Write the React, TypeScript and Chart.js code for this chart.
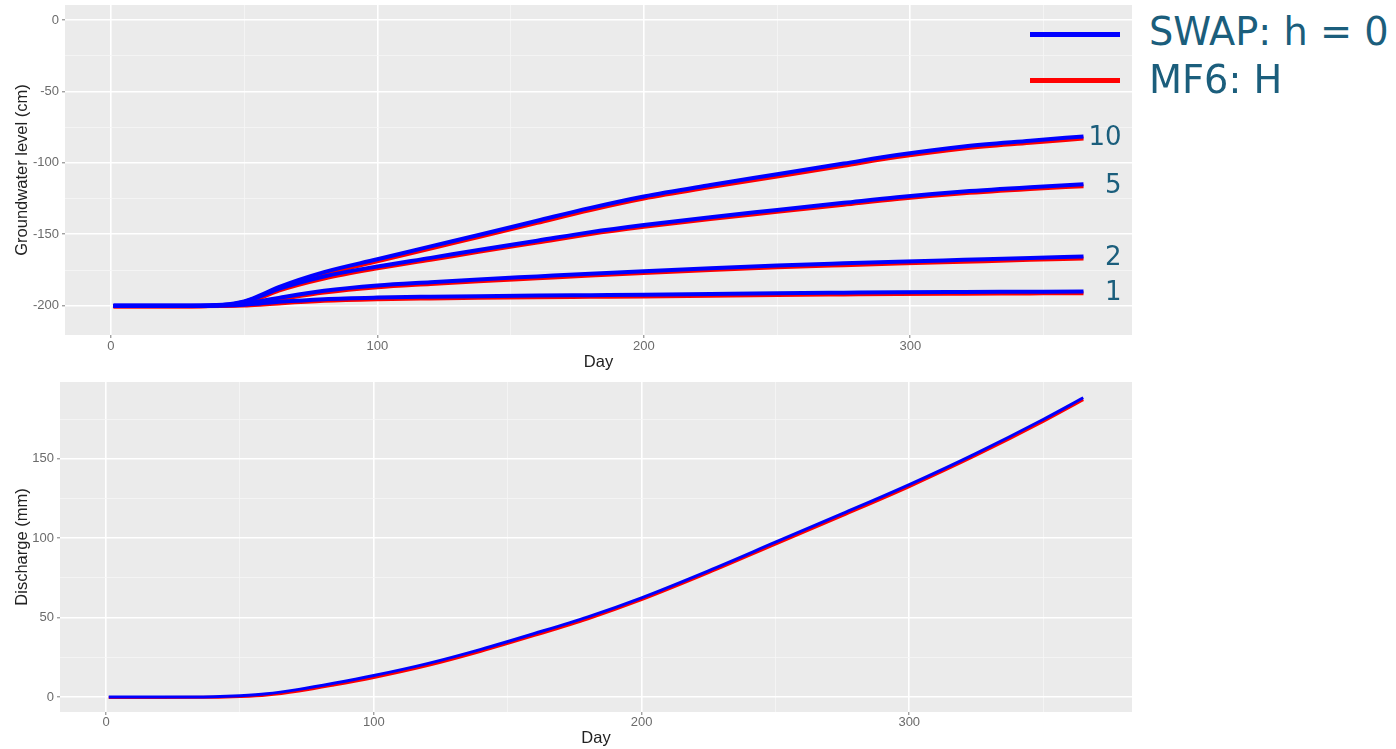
import React, { useEffect, useRef } from 'react';
import { Chart, registerables } from 'chart.js';

Chart.register(...registerables);

// ---------------- data ----------------
const gwDays = [1, 30, 42, 50, 56, 63, 80, 100, 120, 138, 160, 180, 200, 225, 250, 275, 295, 320, 345, 365];

const swapGw10 = [-200, -200, -199.4, -197, -192.8, -187, -176.5, -167.5, -158.5, -150.5, -140.5, -131.5, -123.5, -115.5, -108, -100.5, -94.5, -88.5, -84.5, -81.5];
const swapGw5 = [-200, -200, -199.5, -197.3, -193.5, -188.2, -179.5, -172.5, -166.5, -161, -154.5, -148.5, -143.5, -138, -133, -128, -124, -120, -117, -115];
const swapGw2 = [-200, -200, -199.7, -198.6, -196.8, -194.5, -189.5, -185.8, -183.5, -181.6, -179.5, -177.6, -175.8, -173.7, -171.8, -170.3, -169.2, -167.9, -166.6, -165.6];
const swapGw1 = [-200, -200, -199.8, -199.3, -198.4, -197.3, -195.4, -194.3, -193.7, -193.3, -192.9, -192.6, -192.3, -191.8, -191.3, -190.9, -190.6, -190.4, -190.2, -190.0];

const mf6Gw10 = [-200.3, -200.3, -199.8, -197.8, -194, -188.4, -178, -169, -160, -152, -142, -133, -125, -117, -109.5, -102, -96, -90, -86, -83];
const mf6Gw5 = [-200.3, -200.3, -199.9, -198, -194.6, -189.4, -180.9, -173.8, -167.8, -162.3, -155.8, -149.8, -144.8, -139.3, -134.3, -129.3, -125.3, -121.3, -118.3, -116.3];
const mf6Gw2 = [-200.3, -200.3, -200.1, -199.2, -197.7, -195.6, -190.8, -187.1, -184.8, -182.9, -180.8, -178.9, -177.1, -175, -173.1, -171.6, -170.5, -169.2, -167.9, -166.9];
const mf6Gw1 = [-200.3, -200.3, -200.2, -199.9, -199.3, -198.4, -196.6, -195.5, -194.9, -194.5, -194.1, -193.8, -193.5, -193, -192.5, -192.1, -191.8, -191.6, -191.4, -191.2];

const groupLabels = ['10', '5', '2', '1'];

const qDays = [1, 20, 40, 50, 60, 72, 85, 100, 120, 140, 160, 180, 200, 225, 250, 275, 300, 325, 350, 365];
const swapQ = [0, 0, 0.2, 0.8, 2.0, 4.8, 8.6, 13.5, 21, 30, 40, 50.5, 62.5, 79.5, 97.5, 115.5, 133.8, 153.5, 174.8, 188.5];
const mf6Q = [-0.3, -0.3, -0.2, 0.3, 1.3, 3.8, 7.5, 12.3, 19.8, 28.8, 38.8, 49.3, 61.3, 78.3, 96.3, 114.3, 132.6, 152.3, 173.6, 187.3];

const dayTicks = [0, 50, 100, 150, 200, 250, 300, 350];
const gwTicks = [-200, -175, -150, -125, -100, -75, -50, -25, 0];
const qTicks = [0, 25, 50, 75, 100, 125, 150, 175];

const legendItems = ['SWAP: h = 0', 'MF6: H'];

// ---------------- styles ----------------
const BLUE = '#0000FF';
const RED = '#FF0000';
const TEAL = '#1B5E7C';
const PANEL = '#EBEBEB';
const TICK_TXT = '#6b6b6b';
const TITLE_TXT = '#222222';

const pts = (xs: number[], ys: number[]) => xs.map((x, i) => ({ x, y: ys[i] }));

const panelBg = {
  id: 'panelBg',
  beforeDraw(chart: any) {
    const { ctx, chartArea } = chart;
    if (!chartArea) return;
    ctx.save();
    ctx.fillStyle = PANEL;
    ctx.fillRect(chartArea.left, chartArea.top, chartArea.right - chartArea.left, chartArea.bottom - chartArea.top);
    ctx.restore();
  },
};

const endLabels = {
  id: 'endLabels',
  afterDatasetsDraw(chart: any) {
    const ctx = chart.ctx;
    ctx.save();
    ctx.font = '26px "DejaVu Sans", sans-serif';
    ctx.fillStyle = TEAL;
    ctx.textAlign = 'right';
    ctx.textBaseline = 'middle';
    chart.data.datasets.forEach((ds: any, i: number) => {
      if (!ds.endLabel) return;
      const meta = chart.getDatasetMeta(i);
      const p = meta.data[meta.data.length - 1];
      if (!p) return;
      ctx.fillText(ds.endLabel, p.x + 38, p.y + 2);
    });
    ctx.restore();
  },
};

function gridStyle(major: number) {
  const isMajor = (ctx: any) => ctx.tick && Math.abs(ctx.tick.value % major) < 1e-6;
  return {
    color: (ctx: any) => (isMajor(ctx) ? '#FFFFFF' : '#F6F6F6'),
    lineWidth: (ctx: any) => (isMajor(ctx) ? 1.6 : 0.8),
    tickColor: (ctx: any) => (isMajor(ctx) ? '#7a7a7a' : 'rgba(0,0,0,0)'),
    tickLength: 3,
    tickWidth: 1,
  };
}

function xAxis(min: number, max: number, height: number, titleBottomPad: number, labelPad: number) {
  return {
    type: 'linear',
    min,
    max,
    afterBuildTicks: (s: any) => {
      s.ticks = dayTicks.map((v) => ({ value: v }));
    },
    afterFit: (s: any) => {
      s.height = height;
      s.paddingLeft = 0;
      s.paddingRight = 0;
    },
    ticks: {
      autoSkip: false,
      maxRotation: 0,
      padding: labelPad,
      color: TICK_TXT,
      font: { size: 13 },
      callback: (v: any) => (Number(v) % 100 === 0 ? String(v) : ''),
    },
    grid: gridStyle(100),
    border: { display: false },
    title: {
      display: true,
      text: 'Day',
      color: TITLE_TXT,
      font: { size: 16.5 },
      padding: { top: 0, bottom: titleBottomPad },
    },
  };
}

function yAxis(min: number, max: number, width: number, ticks: number[], title: string) {
  return {
    type: 'linear',
    min,
    max,
    afterBuildTicks: (s: any) => {
      s.ticks = ticks.map((v) => ({ value: v }));
    },
    afterFit: (s: any) => {
      s.width = width;
      s.paddingTop = 0;
      s.paddingBottom = 0;
    },
    ticks: {
      autoSkip: false,
      padding: 3,
      color: TICK_TXT,
      font: { size: 13 },
      callback: (v: any) => (Number(v) % 50 === 0 ? String(v) : ''),
    },
    grid: gridStyle(50),
    border: { display: false },
    title: {
      display: true,
      text: title,
      color: TITLE_TXT,
      font: { size: 16.5 },
      padding: { top: 13, bottom: 0 },
    },
  };
}

function lineDs(label: string, xs: number[], ys: number[], color: string, width: number, order: number, endLabel?: string) {
  return {
    label,
    data: pts(xs, ys),
    borderColor: color,
    backgroundColor: color,
    borderWidth: width,
    pointRadius: 0,
    fill: false,
    tension: 0.4,
    cubicInterpolationMode: 'monotone',
    order,
    endLabel,
  };
}

export default function App() {
  const topRef = useRef<HTMLCanvasElement>(null);
  const botRef = useRef<HTMLCanvasElement>(null);

  useEffect(() => {
    Chart.defaults.font.family = '"Liberation Sans", Arial, sans-serif';

    const swapGroups = [swapGw10, swapGw5, swapGw2, swapGw1];
    const mf6Groups = [mf6Gw10, mf6Gw5, mf6Gw2, mf6Gw1];
    const topDatasets: any[] = [];
    swapGroups.forEach((ys, i) => topDatasets.push(lineDs(legendItems[0], gwDays, ys, BLUE, 4, 0, groupLabels[i])));
    mf6Groups.forEach((ys) => topDatasets.push(lineDs(legendItems[1], gwDays, ys, RED, 4, 1)));

    const top = new Chart(topRef.current as HTMLCanvasElement, {
      type: 'line',
      data: { datasets: topDatasets },
      options: {
        responsive: false,
        animation: false,
        layout: { padding: { top: 5, right: 8, bottom: 0, left: 0 } },
        plugins: { legend: { display: false }, tooltip: { enabled: false } },
        scales: {
          x: xAxis(-17.2, 383.2, 37, 0, 1) as any,
          y: yAxis(-220.5, 10.5, 65, gwTicks, 'Groundwater level (cm)') as any,
        },
      } as any,
      plugins: [panelBg, endLabels],
    });

    const bot = new Chart(botRef.current as HTMLCanvasElement, {
      type: 'line',
      data: {
        datasets: [
          lineDs(legendItems[0], qDays, swapQ, BLUE, 3, 0),
          lineDs(legendItems[1], qDays, mf6Q, RED, 3, 1),
        ] as any,
      },
      options: {
        responsive: false,
        animation: false,
        layout: { padding: { top: 10, right: 8, bottom: 0, left: 0 } },
        plugins: { legend: { display: false }, tooltip: { enabled: false } },
        scales: {
          x: xAxis(-17.2, 383.2, 37, 1, 0) as any,
          y: yAxis(-9.45, 198.45, 60, qTicks, 'Discharge (mm)') as any,
        },
      } as any,
      plugins: [panelBg],
    });

    return () => {
      top.destroy();
      bot.destroy();
    };
  }, []);

  const legendText: React.CSSProperties = {
    position: 'absolute',
    left: 1149,
    fontFamily: '"DejaVu Sans", Verdana, sans-serif',
    fontSize: 38.3,
    lineHeight: '38.3px',
    color: TEAL,
    whiteSpace: 'nowrap',
  };

  return (
    <div style={{ position: 'fixed', left: 0, top: 0, width: 1396, height: 749, background: '#FFFFFF', overflow: 'hidden' }}>
      <canvas ref={topRef} width={1140} height={372} style={{ position: 'absolute', left: 0, top: 0 }} />
      <canvas ref={botRef} width={1140} height={377} style={{ position: 'absolute', left: 0, top: 372 }} />
      <div style={{ position: 'absolute', left: 1030, top: 32, width: 90, height: 4.5, background: BLUE }} />
      <div style={{ position: 'absolute', left: 1030, top: 78, width: 90, height: 4.5, background: RED }} />
      <div style={{ ...legendText, top: 13 }}>{legendItems[0]}</div>
      <div style={{ ...legendText, top: 61 }}>{legendItems[1]}</div>
    </div>
  );
}
